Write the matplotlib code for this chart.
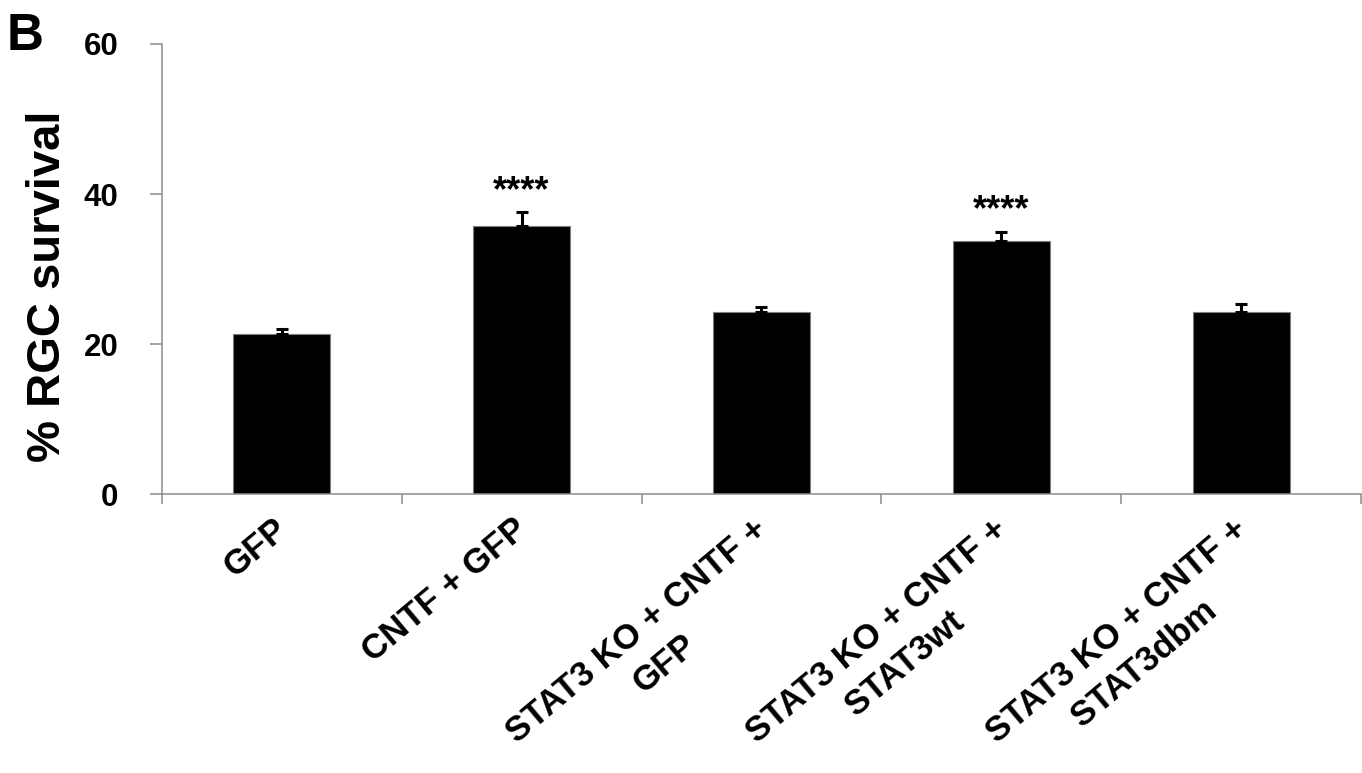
import matplotlib
matplotlib.use("Agg")
import numpy as np
import matplotlib.pyplot as plt
from matplotlib.transforms import ScaledTranslation

categories = ["GFP", "CNTF + GFP", "STAT3 KO + CNTF +\nGFP",
              "STAT3 KO + CNTF +\nSTAT3wt", "STAT3 KO + CNTF +\nSTAT3dbm"]
values = [21.4, 35.8, 24.3, 33.8, 24.3]
errors = [0.6, 1.8, 0.6, 1.2, 1.1]
significance = ["", "****", "", "****", ""]
yticks = [0, 20, 40, 60]

plt.rcParams['font.family'] = ['Liberation Sans', 'DejaVu Sans']
plt.rcParams['font.weight'] = 'bold'

fig = plt.figure(figsize=(13.62, 7.73), dpi=100)
ax = fig.add_axes([0.1187, 0.3605, 0.8808, 0.5826])

axis_grey = '#8c8c8c'
x = list(range(len(categories)))
ax.bar(x, values, width=0.407, color='black', edgecolor='#7f7f7f', linewidth=0.8, zorder=2)
ax.errorbar(x, values, yerr=[[0] * len(values), errors], fmt='none', ecolor='black',
            elinewidth=2.2, capsize=4.5, capthick=2.2, zorder=3)

for xi, v, e, s in zip(x, values, errors, significance):
    if s:
        ax.annotate(s, xy=(xi, v + e), xytext=(0, 8), textcoords='offset points',
                    ha='center', va='baseline', fontsize=26, fontweight='bold')

ax.set_xlim(-0.5, len(categories) - 0.5)
ax.set_ylim(0, 60)
ax.set_yticks(yticks)
ax.set_yticklabels([str(t) for t in yticks], fontsize=22.5, fontweight='bold')
ax.tick_params(axis='y', direction='out', length=8.5, width=1.1, color=axis_grey, pad=22.5)

ax.set_xticks([i - 0.5 for i in range(len(categories) + 1)])
ax.set_xticklabels([])
ax.tick_params(axis='x', direction='out', length=7.5, width=1.1, color=axis_grey)

for side in ['top', 'right']:
    ax.spines[side].set_visible(False)
for side in ['left', 'bottom']:
    ax.spines[side].set_color(axis_grey)
    ax.spines[side].set_linewidth(1.1)

ax.set_ylabel('% RGC survival', fontsize=34, fontweight='bold')
ax.yaxis.set_label_coords(-0.0765, 0.463)

# category labels, rotated: first line right-aligned at the category centre,
# following lines centred under it
angle = 40
label_fs = 25
th = np.deg2rad(angle)
base = np.array([np.cos(th), np.sin(th)])    # along text (display, y up)
down = np.array([np.sin(th), -np.cos(th)])   # perpendicular, towards next line
line_gap = 43.0                              # px between baselines
anchor = np.array([7.5, -38.0])              # px from category centre on the axis
renderer = fig.canvas.get_renderer()


def place(xi, text, off, ha):
    tr = ax.get_xaxis_transform() + ScaledTranslation(off[0] / 100, off[1] / 100, fig.dpi_scale_trans)
    ax.text(xi, 0, text, transform=tr, rotation=angle, rotation_mode='anchor',
            ha=ha, va='baseline', fontsize=label_fs, fontweight='bold')


for xi, lab in zip(x, categories):
    lines = lab.split('\n')
    place(xi, lines[0], anchor, 'right')
    if len(lines) > 1:
        tmp = fig.text(0, 0, lines[0], fontsize=label_fs, fontweight='bold')
        w1 = tmp.get_window_extent(renderer).width
        tmp.remove()
        centre1 = anchor - (w1 / 2) * base
        for k, ln in enumerate(lines[1:], start=1):
            place(xi, ln, centre1 + k * line_gap * down, 'center')

fig.text(0.0047, 1 - 50 / 773, 'B', fontsize=37, fontweight='bold', ha='left', va='baseline')

fig.savefig('out.png', dpi=100)
